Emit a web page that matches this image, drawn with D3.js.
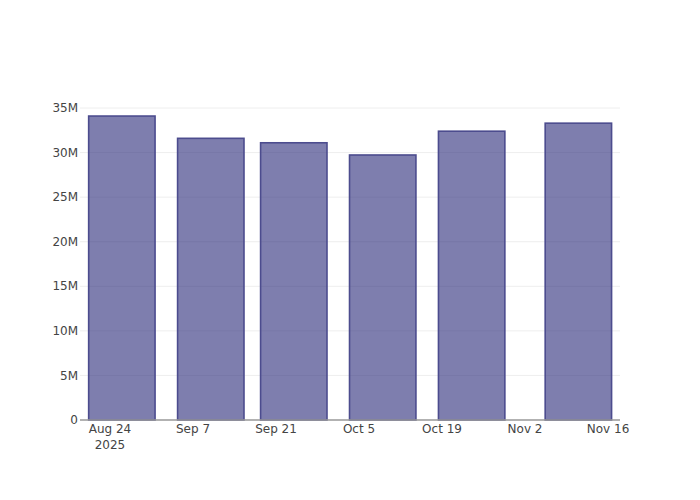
<!DOCTYPE html>
<html>
<head>
<meta charset="utf-8">
<script src="https://cdn.jsdelivr.net/npm/d3@7"></script>
<style>
  html, body { margin: 0; padding: 0; background: #fff; }
  svg { display: block; }
  text { font-family: "DejaVu Sans", Verdana, sans-serif; }
</style>
</head>
<body>
<svg id="chart" width="700" height="500"></svg>
<script>
// ---- data ----
const dates = ["2025-08-26", "2025-09-10", "2025-09-24", "2025-10-09", "2025-10-24", "2025-11-11"];
const values = [34.1e6, 31.6e6, 31.1e6, 29.73e6, 32.4e6, 33.3e6];
const xTickDates = ["2025-08-24", "2025-09-07", "2025-09-21", "2025-10-05", "2025-10-19", "2025-11-02", "2025-11-16"];
const xTickLabels = ["Aug 24", "Sep 7", "Sep 21", "Oct 5", "Oct 19", "Nov 2", "Nov 16"];
const xYearLabels = ["2025", "", "", "", "", "", ""];
const yTicks = [0, 5e6, 10e6, 15e6, 20e6, 25e6, 30e6, 35e6];
const yTickLabels = ["0", "5M", "10M", "15M", "20M", "25M", "30M", "35M"];

// ---- layout ----
const W = 700, H = 500;
const m = { l: 80, r: 80, t: 100, b: 80 };
const DAY = 864e5;
const parse = s => new Date(s + "T00:00:00Z");

const svg = d3.select("#chart");

const x = d3.scaleUtc()
  .domain([new Date(parse("2025-08-24").getTime() - 5.06 * DAY),
           new Date(parse("2025-11-16").getTime() + 2.02 * DAY)])
  .range([m.l, W - m.r]);

const y = d3.scaleLinear()
  .domain([0, 35.9e6])
  .range([H - m.b, m.t]);

// gridlines
svg.append("g").selectAll("line")
  .data(yTicks.filter(d => d > 0))
  .join("line")
  .attr("x1", m.l).attr("x2", W - m.r)
  .attr("y1", d => y(d)).attr("y2", d => y(d))
  .attr("stroke", "#eeeeee").attr("stroke-width", 1);

// bars
const halfW = 5.6 * DAY;
const data = dates.map((d, i) => ({ date: parse(d), value: values[i] }));
svg.append("g").selectAll("rect")
  .data(data)
  .join("rect")
  .attr("x", d => x(new Date(d.date.getTime() - halfW)))
  .attr("width", d => x(new Date(d.date.getTime() + halfW)) - x(new Date(d.date.getTime() - halfW)))
  .attr("y", d => y(d.value))
  .attr("height", d => y(0) - y(d.value))
  .attr("fill", "rgba(40,40,120,0.6)")
  .attr("stroke", "#4c4c8e")
  .attr("stroke-width", 1.6);

// x axis line
svg.append("line")
  .attr("x1", m.l).attr("x2", W - m.r)
  .attr("y1", y(0)).attr("y2", y(0))
  .attr("stroke", "#999").attr("stroke-width", 1.5);

// x tick labels
const xTicks = xTickDates.map((d, i) => ({ date: parse(d), label: xTickLabels[i], year: xYearLabels[i] }));
svg.append("g").selectAll("text")
  .data(xTicks)
  .join("text")
  .attr("x", d => x(d.date))
  .attr("y", y(0) + 13)
  .attr("text-anchor", "middle")
  .attr("font-size", 12)
  .attr("fill", "#444")
  .text(d => d.label);
svg.append("g").selectAll("text")
  .data(xTicks.filter(d => d.year))
  .join("text")
  .attr("x", d => x(d.date))
  .attr("y", y(0) + 29)
  .attr("text-anchor", "middle")
  .attr("font-size", 12)
  .attr("fill", "#444")
  .text(d => d.year);

// y tick labels
svg.append("g").selectAll("text")
  .data(yTicks.map((v, i) => ({ v, label: yTickLabels[i] })))
  .join("text")
  .attr("x", m.l - 2)
  .attr("y", d => y(d.v))
  .attr("dy", "0.35em")
  .attr("text-anchor", "end")
  .attr("font-size", 12)
  .attr("fill", "#444")
  .text(d => d.label);
</script>
</body>
</html>
